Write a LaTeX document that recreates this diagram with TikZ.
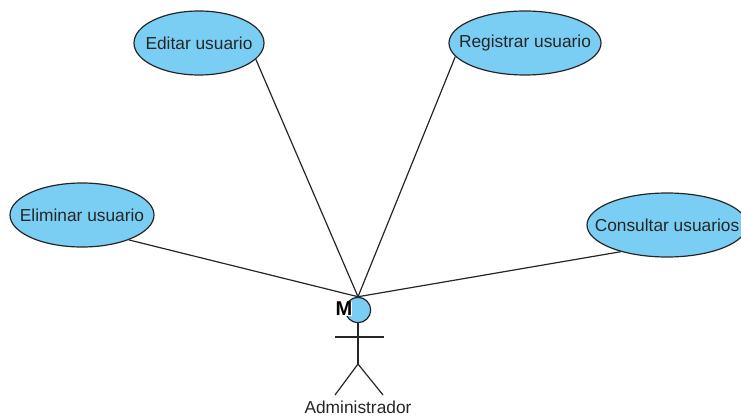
\documentclass[tikz,border=0pt]{standalone}
\usepackage{fontspec}
\setmainfont{Liberation Sans}
\usetikzlibrary{shapes,positioning}
\definecolor{casefill}{HTML}{7ACEF4}

\begin{document}
\begin{tikzpicture}[
    x=0.75pt, y=-0.75pt,
    usecase/.style={ellipse, draw=black!85, fill=casefill, line width=0.9pt, inner sep=0pt, minimum height=48pt, font=\fontsize{13}{15}\selectfont, text=black!85},
    assoc/.style={draw=black!85, line width=0.9pt},
    limb/.style={draw=black!85, line width=0.9pt}
]
\clip (0,0) rectangle (741,417);

% Use cases
\node[usecase, minimum width=97.5pt] (editar) at (199,43) {\makebox[0pt]{Editar usuario}};
\node[usecase, minimum width=114pt] (registrar) at (525,43) {\makebox[0pt]{Registrar usuario}};
\node[usecase, minimum width=108pt] (eliminar) at (82,215) {\makebox[0pt]{Eliminar usuario}};
\node[usecase, minimum width=120pt] (consultar) at (667,225) {\makebox[0pt]{Consultar usuarios}};

% Actor
\node[circle, draw=black!85, fill=casefill, line width=0.9pt, minimum size=19pt, inner sep=0pt] (head) at (358,310) {};
\node[fill=white, font=\fontsize{15}{16}\selectfont\bfseries, inner sep=0pt] (marker) at (344,309) {M};
\coordinate (shoulderl) at (335,337);
\coordinate (shoulderr) at (384,337);
\coordinate (hip) at (358,364);
\coordinate (footl) at (335,395);
\coordinate (footr) at (383,395);
\draw[limb] (head.south) -- (hip);
\draw[limb] (shoulderl) -- (shoulderr);
\draw[limb] (footl) -- (hip) -- (footr);
\node[font=\fontsize{13}{15}\selectfont, text=black!85, inner sep=0pt] (administrador) at (358,407) {Administrador};

% Associations
\draw[assoc] (editar.-16) -- (head.north);
\draw[assoc] (registrar.191) -- (head.north);
\draw[assoc] (eliminar.-28) -- (head.north);
\draw[assoc] (consultar.210) -- (head.north);

\end{tikzpicture}
\end{document}
